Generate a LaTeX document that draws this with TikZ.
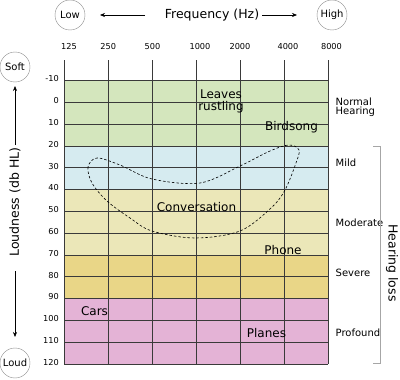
\documentclass[tikz,border=0pt]{standalone}
\usepackage{fontspec}
\setmainfont{DejaVu Sans}
\usetikzlibrary{arrows.meta}
\definecolor{cgreen}{HTML}{D4E6BD}
\definecolor{cblue}{HTML}{D6EBF0}
\definecolor{cpale}{HTML}{EBE7B8}
\definecolor{cyell}{HTML}{E9D687}
\definecolor{cpink}{HTML}{E4B3D6}
\definecolor{cgrid}{HTML}{3A3A3A}
\begin{document}
\begin{tikzpicture}[x=1pt,y=-1pt,
  gridline/.style={draw=cgrid,line width=0.6pt},
  circ/.style={draw=gray!90,circle,minimum size=30pt,inner sep=0pt,font=\fontsize{10}{11}\selectfont},
  tick/.style={font=\fontsize{8.2}{9}\selectfont,inner sep=0pt},
  side/.style={font=\fontsize{10}{9}\selectfont,anchor=west,inner sep=0pt,align=left},
  big/.style={font=\fontsize{12.5}{13}\selectfont,inner sep=0pt},
  inlbl/.style={font=\fontsize{12}{13}\selectfont,inner sep=0pt,align=center},
  arr/.style={-{Stealth[length=5pt,width=4pt]},line width=0.6pt}]
\useasboundingbox (0,0) rectangle (400,380);
\fill[white] (0,0) rectangle (400,380);
% bands
\fill[cgreen] (64.3,80.5) rectangle (328.3,145.9);
\fill[cblue] (64.3,145.9) rectangle (328.3,189.5);
\fill[cpale] (64.3,189.5) rectangle (328.3,254.9);
\fill[cyell] (64.3,254.9) rectangle (328.3,298.5);
\fill[cpink] (64.3,298.5) rectangle (328.3,363.9);
% grid
\foreach \i in {0,...,6} \draw[gridline] ({64.3+44*\i},60) -- ({64.3+44*\i},363.9);
\foreach \d in {-10,10,20,...,120} \draw[gridline] (64.3,{102.3+2.18*\d}) -- (328.3,{102.3+2.18*\d});
\draw[draw=cgrid,line width=1.2pt] (64.3,102.3) -- (328.3,102.3);
% frequency labels
\node[tick] (f125) at (69,47) {125};
\node[tick] (f250) at (108.3,47) {250};
\node[tick] (f500) at (152.5,47) {500};
\node[tick] (f1000) at (200,47) {1000};
\node[tick] (f2000) at (240,47) {2000};
\node[tick] (f4000) at (288,47) {4000};
\node[tick] (f8000) at (331.5,47) {8000};
% dB labels
\foreach \d in {-10,0,10,...,120} \node[tick,anchor=east] at (59,{100.8+2.18*\d}) {\d};
% top
\node[circ] (low) at (70,15) {Low};
\node[circ] (high) at (332,15) {High};
\node[big] (freq) at (212,15) {Frequency (Hz)};
\coordinate (fl1) at (145,15); \coordinate (fl2) at (100,15);
\coordinate (fr1) at (262,15); \coordinate (fr2) at (297,15);
\draw[arr] (fl1) -- (fl2);
\draw[arr] (fr1) -- (fr2);
% left
\node[circ] (soft) at (15,67) {Soft};
\node[circ] (loud) at (15,363) {Loud};
\node[big,rotate=90] (loudness) at (15,202) {Loudness (db HL)};
\coordinate (lu1) at (15,145); \coordinate (lu2) at (15,86);
\coordinate (ld1) at (15,271); \coordinate (ld2) at (15,337);
\draw[arr] (lu1) -- (lu2);
\draw[arr] (ld1) -- (ld2);
% right
\node[side] (normal) at (335.5,107) {Normal\\Hearing};
\node[side] (mild) at (335.5,163) {Mild};
\node[side] (moderate) at (335.5,223) {Moderate};
\node[side] (severe) at (335.5,273) {Severe};
\node[side] (profound) at (335.5,333) {Profound};
\draw[gray!70,line width=0.6pt] (373,146) -- (380,146) -- (380,363.5) -- (373,363.5);
\node[big,rotate=-90] (hloss) at (392,263) {Hearing loss};
% inner labels
\node[inlbl] (leaves) at (221,101.5) {Leaves\\[-1.5pt]rustling};
\node[inlbl] (bird) at (291.5,127) {Birdsong};
\node[inlbl] (conv) at (196.5,207) {Conversation};
\node[inlbl] (phone) at (283,250) {Phone};
\node[inlbl] (cars) at (94.5,311) {Cars};
\node[inlbl] (planes) at (266.5,333) {Planes};
% banana
\draw[line width=0.6pt,dash pattern=on 2.5pt off 2pt] plot[smooth cycle,tension=0.55] coordinates {
 (97,158) (88,167) (92,183) (107,201) (130,218) (152,231) (195,238) (240,231) (271,208) (285,190) (296,163) (299,150) (289,145) (270,151) (240,166) (200,183) (152,179) (120,165)};
\end{tikzpicture}
\end{document}
